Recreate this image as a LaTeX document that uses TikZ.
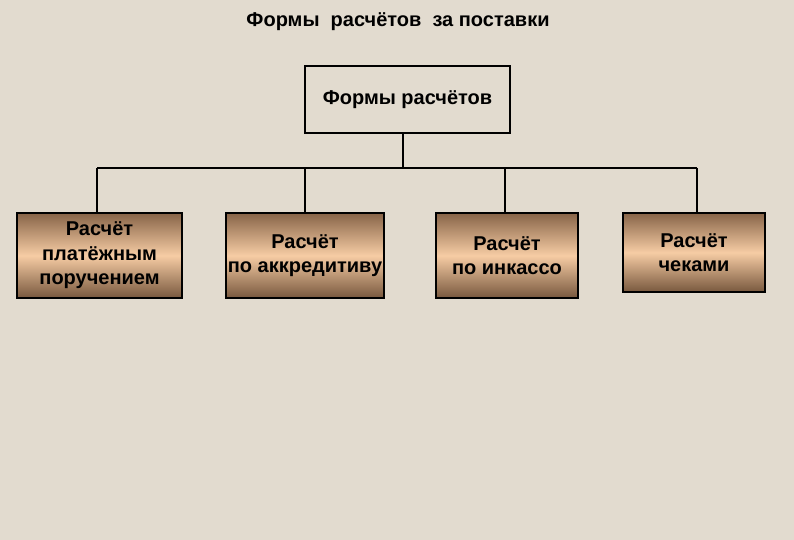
\documentclass[tikz,border=0pt]{standalone}
\usepackage{fontspec}
\setmainfont{Liberation Sans}
\definecolor{paper}{RGB}{226,219,207}
\definecolor{brdark}{RGB}{135,100,72}
\definecolor{brlight}{RGB}{246,204,164}
\definecolor{brbottom}{RGB}{120,88,62}
\tikzset{
    formbox/.style={draw=black, line width=1.6pt, align=center, inner sep=1pt, font=\bfseries\fontsize{20}{24.5}\selectfont},
    kindbox/.style={formbox, top color=brdark, bottom color=brbottom, middle color=brlight},
    link/.style={line width=1.6pt}
}
\begin{document}
\begin{tikzpicture}[x=1pt,y=-1pt]
        \fill [paper] (0,0) rectangle (794,540);
        \useasboundingbox (0,0) rectangle (794,540);
        \node (title) at (398,22) {\bfseries\fontsize{20}{24}\selectfont Формы\ \ расчётов\ \ за поставки};
        \node [formbox, minimum width=205pt, minimum height=67pt] (forms) at (407.5,99.5) {Формы расчётов};
        \node [kindbox, minimum width=165pt, minimum height=85pt] (order) at (99.5,255.5) {Расчёт\\платёжным\\поручением};
        \node [kindbox, minimum width=158pt, minimum height=85pt] (credit) at (305,255.5) {Расчёт\\по аккредитиву};
        \node [kindbox, minimum width=142pt, minimum height=85pt] (collect) at (507,255.5) {Расчёт\\по инкассо};
        \node [kindbox, minimum width=142pt, minimum height=79pt] (cheque) at (694,252.5) {Расчёт\\чеками};
        \coordinate (busL) at (97,168);
        \coordinate (busR) at (697,168);
        \draw [link] (busL) -- (busR);
        \draw [link] (forms.south -| 403,0) -- (403,168);
        \draw [link] (busL) -- (busL |- order.north);
        \draw [link] (credit.north) -- (credit.north |- busL);
        \draw [link] (505,168) -- (505,213);
        \draw [link] (busR) -- (busR |- cheque.north);
    \end{tikzpicture}
\end{document}
